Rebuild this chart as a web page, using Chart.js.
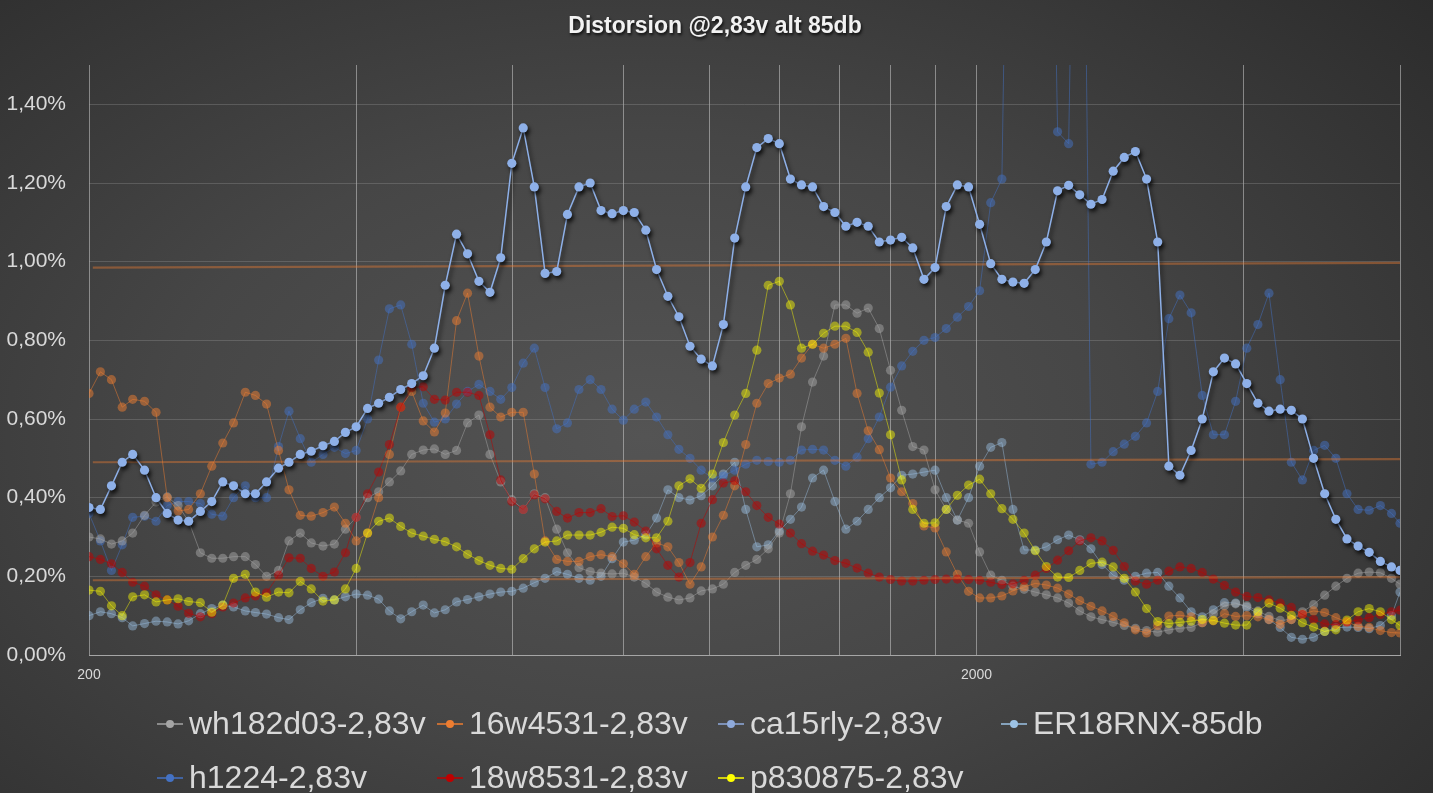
<!DOCTYPE html>
<html>
<head>
<meta charset="utf-8">
<title>Distorsion</title>
<script src="https://cdn.jsdelivr.net/npm/chart.js@4.4.1/dist/chart.umd.min.js"></script>
<style>
html, body { margin: 0; padding: 0; background: #2e2e2e; }
#wrap {
    width: 1433px; height: 793px; position: relative;
    background: radial-gradient(ellipse 75% 85% at 45% 55%, #545454 0%, #464646 45%, #2b2b2b 100%);
}
canvas { display: block; }
</style>
</head>
<body>
<div id="wrap"><canvas id="distChart" width="1433" height="793"></canvas></div>
<script>
// --- DATA (1/24 octave, % distortion) ---
const freqs = [200, 206, 212, 218, 224, 231, 238, 245, 252, 259,
    267, 275, 283, 291, 300, 308, 317, 327, 336, 346,
    356, 367, 378, 389, 400, 412, 424, 436, 449, 462,
    476, 490, 504, 519, 534, 550, 566, 582, 599, 617,
    635, 653, 673, 692, 713, 734, 755, 777, 800, 823,
    848, 872, 898, 924, 951, 979, 1008, 1037, 1068, 1099,
    1131, 1165, 1199, 1234, 1270, 1307, 1345, 1385, 1425, 1467,
    1510, 1554, 1600, 1647, 1695, 1745, 1796, 1849, 1903, 1959,
    2016, 2075, 2136, 2198, 2263, 2329, 2397, 2468, 2540, 2614,
    2691, 2770, 2851, 2934, 3020, 3109, 3200, 3294, 3390, 3490,
    3592, 3697, 3805, 3917, 4032, 4150, 4271, 4397, 4526, 4658,
    4795, 4935, 5080, 5229, 5382, 5539, 5702, 5869, 6000];

const wh182d03 = [0.30, 0.295, 0.282, 0.29, 0.31, 0.355, 0.389, 0.402, 0.38, 0.34,
    0.26, 0.246, 0.246, 0.25, 0.25, 0.23, 0.20, 0.215, 0.29, 0.31,
    0.285, 0.277, 0.282, 0.32, 0.35, 0.40, 0.415, 0.44, 0.468, 0.51,
    0.521, 0.524, 0.51, 0.52, 0.59, 0.61, 0.51, 0.44, 0.395, 0.37,
    0.41, 0.40, 0.32, 0.26, 0.222, 0.212, 0.208, 0.206, 0.208, 0.198,
    0.182, 0.16, 0.147, 0.14, 0.145, 0.163, 0.168, 0.18, 0.21, 0.228,
    0.243, 0.27, 0.31, 0.41, 0.58, 0.694, 0.76, 0.89, 0.89, 0.869,
    0.882, 0.83, 0.724, 0.622, 0.53, 0.521, 0.42, 0.37, 0.343, 0.335,
    0.262, 0.203, 0.19, 0.175, 0.167, 0.16, 0.153, 0.145, 0.132, 0.112,
    0.097, 0.09, 0.083, 0.075, 0.068, 0.062, 0.058, 0.064, 0.068, 0.07,
    0.082, 0.105, 0.125, 0.13, 0.125, 0.112, 0.098, 0.088, 0.09, 0.11,
    0.128, 0.152, 0.175, 0.195, 0.208, 0.211, 0.209, 0.195, 0.18];

const s16w4531 = [0.665, 0.72, 0.70, 0.63, 0.65, 0.645, 0.617, 0.40, 0.366, 0.37,
    0.41, 0.48, 0.539, 0.59, 0.668, 0.66, 0.638, 0.52, 0.42, 0.355,
    0.353, 0.362, 0.376, 0.335, 0.29, 0.31, 0.40, 0.51, 0.63, 0.67,
    0.595, 0.567, 0.615, 0.85, 0.92, 0.76, 0.63, 0.605, 0.617, 0.617,
    0.46, 0.29, 0.243, 0.238, 0.238, 0.25, 0.255, 0.25, 0.232, 0.205,
    0.25, 0.285, 0.275, 0.235, 0.18, 0.224, 0.30, 0.355, 0.43, 0.535,
    0.64, 0.69, 0.704, 0.714, 0.755, 0.79, 0.78, 0.79, 0.805, 0.665,
    0.57, 0.522, 0.45, 0.415, 0.385, 0.328, 0.323, 0.262, 0.205, 0.162,
    0.145, 0.145, 0.15, 0.163, 0.173, 0.182, 0.178, 0.17, 0.155, 0.138,
    0.124, 0.112, 0.098, 0.082, 0.064, 0.056, 0.075, 0.099, 0.101, 0.097,
    0.082, 0.087, 0.105, 0.098, 0.10, 0.097, 0.09, 0.078, 0.09, 0.104,
    0.112, 0.108, 0.095, 0.084, 0.073, 0.07, 0.062, 0.057, 0.056];

const ca15rly = [0.375, 0.37, 0.43, 0.49, 0.51, 0.47, 0.40, 0.36, 0.343, 0.34,
    0.365, 0.39, 0.44, 0.43, 0.41, 0.41, 0.44, 0.475, 0.49, 0.51,
    0.518, 0.532, 0.543, 0.566, 0.58, 0.627, 0.64, 0.655, 0.675, 0.69,
    0.71, 0.78, 0.94, 1.07, 1.02, 0.95, 0.922, 1.01, 1.25, 1.34,
    1.19, 0.97, 0.975, 1.12, 1.19, 1.20, 1.13, 1.122, 1.13, 1.125,
    1.08, 0.98, 0.912, 0.86, 0.785, 0.752, 0.735, 0.84, 1.06, 1.19,
    1.29, 1.313, 1.30, 1.21, 1.195, 1.19, 1.14, 1.125, 1.09, 1.10,
    1.09, 1.05, 1.055, 1.062, 1.035, 0.955, 0.985, 1.14, 1.195, 1.19,
    1.095, 0.995, 0.955, 0.948, 0.945, 0.98, 1.05, 1.18, 1.194, 1.17,
    1.146, 1.158, 1.23, 1.265, 1.28, 1.21, 1.05, 0.48, 0.457, 0.52,
    0.60, 0.72, 0.755, 0.74, 0.69, 0.64, 0.62, 0.625, 0.622, 0.60,
    0.50, 0.41, 0.345, 0.295, 0.277, 0.261, 0.238, 0.224, 0.215];

const er18rnx = [0.10, 0.11, 0.105, 0.095, 0.074, 0.08, 0.086, 0.084, 0.079, 0.087,
    0.105, 0.118, 0.127, 0.122, 0.112, 0.108, 0.104, 0.095, 0.09, 0.115,
    0.133, 0.144, 0.14, 0.148, 0.155, 0.152, 0.142, 0.112, 0.092, 0.11,
    0.127, 0.107, 0.115, 0.135, 0.141, 0.148, 0.155, 0.16, 0.162, 0.17,
    0.184, 0.195, 0.212, 0.205, 0.195, 0.19, 0.20, 0.245, 0.287, 0.292,
    0.305, 0.348, 0.42, 0.40, 0.394, 0.405, 0.43, 0.46, 0.49, 0.37,
    0.275, 0.28, 0.315, 0.345, 0.376, 0.45, 0.47, 0.39, 0.32, 0.34,
    0.37, 0.40, 0.425, 0.457, 0.46, 0.465, 0.47, 0.40, 0.343, 0.40,
    0.48, 0.528, 0.54, 0.37, 0.267, 0.267, 0.275, 0.293, 0.305, 0.293,
    0.27, 0.23, 0.203, 0.19, 0.20, 0.208, 0.21, 0.175, 0.145, 0.11,
    0.097, 0.115, 0.133, 0.132, 0.122, 0.105, 0.09, 0.07, 0.045, 0.04,
    0.045, 0.06, 0.069, 0.071, 0.07, 0.067, 0.075, 0.10, 0.16];

// values above 1,5% run off the top of the plot (spikes)
const h1224 = [0.36, 0.29, 0.215, 0.28, 0.35, 0.353, 0.34, 0.38, 0.39, 0.39,
    0.385, 0.358, 0.353, 0.40, 0.43, 0.40, 0.40, 0.53, 0.62, 0.55,
    0.49, 0.51, 0.528, 0.512, 0.52, 0.60, 0.75, 0.88, 0.89, 0.79,
    0.64, 0.592, 0.60, 0.638, 0.67, 0.688, 0.67, 0.65, 0.68, 0.742,
    0.78, 0.68, 0.575, 0.59, 0.675, 0.70, 0.675, 0.625, 0.597, 0.625,
    0.643, 0.605, 0.56, 0.523, 0.50, 0.47, 0.45, 0.455, 0.47, 0.485,
    0.495, 0.492, 0.49, 0.495, 0.521, 0.523, 0.521, 0.495, 0.48, 0.503,
    0.55, 0.605, 0.681, 0.735, 0.772, 0.80, 0.807, 0.83, 0.859, 0.886,
    0.926, 1.15, 1.21, 3.0, 3.0, 3.0, 3.0, 1.33, 1.30, 3.0,
    0.485, 0.49, 0.517, 0.536, 0.556, 0.59, 0.67, 0.855, 0.915, 0.87,
    0.66, 0.56, 0.56, 0.645, 0.78, 0.84, 0.92, 0.70, 0.49, 0.445,
    0.52, 0.533, 0.50, 0.41, 0.37, 0.368, 0.38, 0.36, 0.335];

const s18w8531 = [0.25, 0.243, 0.232, 0.21, 0.185, 0.175, 0.153, 0.14, 0.124, 0.106,
    0.097, 0.105, 0.122, 0.132, 0.145, 0.15, 0.158, 0.203, 0.247, 0.246,
    0.22, 0.20, 0.211, 0.26, 0.35, 0.41, 0.465, 0.535, 0.63, 0.68,
    0.682, 0.65, 0.648, 0.668, 0.668, 0.66, 0.56, 0.445, 0.39, 0.37,
    0.407, 0.397, 0.365, 0.348, 0.362, 0.362, 0.372, 0.352, 0.354, 0.338,
    0.315, 0.27, 0.228, 0.198, 0.235, 0.335, 0.395, 0.437, 0.443, 0.415,
    0.38, 0.35, 0.333, 0.31, 0.283, 0.264, 0.254, 0.24, 0.233, 0.221,
    0.208, 0.198, 0.192, 0.188, 0.188, 0.19, 0.192, 0.193, 0.193, 0.192,
    0.19, 0.185, 0.179, 0.181, 0.19, 0.203, 0.22, 0.241, 0.265, 0.29,
    0.298, 0.29, 0.266, 0.225, 0.188, 0.18, 0.19, 0.213, 0.224, 0.22,
    0.21, 0.193, 0.177, 0.16, 0.149, 0.146, 0.14, 0.132, 0.121, 0.103,
    0.09, 0.079, 0.077, 0.084, 0.089, 0.095, 0.103, 0.11, 0.114];

const p830875 = [0.165, 0.162, 0.125, 0.10, 0.148, 0.153, 0.135, 0.14, 0.143, 0.136,
    0.133, 0.109, 0.127, 0.195, 0.205, 0.16, 0.147, 0.16, 0.158, 0.187,
    0.168, 0.137, 0.14, 0.168, 0.22, 0.31, 0.34, 0.348, 0.327, 0.31,
    0.302, 0.294, 0.288, 0.275, 0.256, 0.24, 0.228, 0.22, 0.218, 0.245,
    0.27, 0.287, 0.29, 0.305, 0.305, 0.305, 0.312, 0.325, 0.322, 0.306,
    0.298, 0.298, 0.34, 0.43, 0.448, 0.424, 0.46, 0.54, 0.61, 0.665,
    0.775, 0.94, 0.95, 0.89, 0.78, 0.79, 0.818, 0.836, 0.836, 0.82,
    0.77, 0.666, 0.56, 0.445, 0.37, 0.335, 0.336, 0.37, 0.406, 0.432,
    0.447, 0.41, 0.372, 0.345, 0.31, 0.265, 0.225, 0.198, 0.197, 0.215,
    0.233, 0.236, 0.224, 0.195, 0.16, 0.118, 0.085, 0.08, 0.083, 0.086,
    0.09, 0.088, 0.081, 0.076, 0.076, 0.11, 0.132, 0.119, 0.101, 0.082,
    0.071, 0.06, 0.064, 0.089, 0.11, 0.118, 0.11, 0.09, 0.075];

// reference levels (orange lines), value at first and last frequency
const refFreqs = [202, 6000];
const refLevels = [[0.985, 0.997], [0.49, 0.498], [0.19, 0.198]];

const seriesNames = ['wh182d03-2,83v', '16w4531-2,83v', 'ca15rly-2,83v', 'ER18RNX-85db',
    'h1224-2,83v', '18w8531-2,83v', 'p830875-2,83v'];
const seriesValues = [wh182d03, s16w4531, ca15rly, er18rnx, h1224, s18w8531, p830875];
const legendColors = ['#a5a5a5', '#ed7d31', '#8faadc', '#9dc3e6', '#4472c4', '#c00000', '#ffff00'];
const plotColors = ['rgba(165,165,165,0.5)', 'rgba(237,125,49,0.5)', '#8eb0e8', 'rgba(157,195,230,0.45)',
    'rgba(68,114,196,0.5)', 'rgba(192,0,0,0.5)', 'rgba(255,255,0,0.45)'];
const drawOrder = [4, 3, 0, 6, 5, 2, 1];

const xGrid = [200, 400, 600, 800, 1000, 1200, 1400, 1600, 1800, 2000, 4000, 6000];
const xLabels = [200, 2000];

const fontMain = "'Liberation Sans', sans-serif";
const HIGHLIGHT = 2; // ca15rly drawn with a drop shadow

// --- DATASETS ---
const datasets = seriesNames.map((name, s) => ({
    label: name,
    data: freqs.map((f, i) => ({ x: f, y: seriesValues[s][i] })),
    borderColor: plotColors[s],
    backgroundColor: plotColors[s],
    borderWidth: s === HIGHLIGHT ? 1.5 : 1,
    pointRadius: 4.6,
    pointBorderWidth: 0,
    pointHoverRadius: 4.6,
    tension: 0,
    order: drawOrder[s]
}));

refLevels.forEach(lv => {
    datasets.push({
        label: 'ref',
        data: refFreqs.map((f, i) => ({ x: f, y: lv[i] })),
        borderColor: 'rgba(237,125,49,0.42)',
        borderWidth: 2.2,
        pointRadius: 0,
        order: 1
    });
});

// --- PLUGIN: shadow, title, legend ---
const decorPlugin = {
    id: 'decor',
    beforeDatasetDraw(chart, args) {
        if (args.index === HIGHLIGHT) {
            const ctx = chart.ctx;
            ctx.save();
            ctx.shadowColor = 'rgba(0,0,0,0.75)';
            ctx.shadowBlur = 4;
            ctx.shadowOffsetX = 2;
            ctx.shadowOffsetY = 3;
        }
    },
    afterDatasetDraw(chart, args) {
        if (args.index === HIGHLIGHT) chart.ctx.restore();
    },
    afterDraw(chart) {
        const ctx = chart.ctx;
        // title
        ctx.save();
        ctx.font = "bold 23px " + fontMain;
        ctx.textAlign = 'center';
        ctx.textBaseline = 'middle';
        ctx.shadowColor = 'rgba(0,0,0,0.8)';
        ctx.shadowBlur = 3;
        ctx.shadowOffsetX = 1;
        ctx.shadowOffsetY = 2;
        ctx.fillStyle = '#f2f2f2';
        ctx.fillText('Distorsion @2,83v alt 85db', 715, 27);
        ctx.restore();

        // legend, 4 columns x 2 rows
        const cols = [157, 437, 718, 1001];
        const rows = [724, 778];
        ctx.save();
        ctx.font = "32px " + fontMain;
        ctx.textBaseline = 'middle';
        ctx.textAlign = 'left';
        seriesNames.forEach((name, s) => {
            const x0 = cols[s % 4];
            const y0 = rows[Math.floor(s / 4)];
            ctx.strokeStyle = legendColors[s];
            ctx.lineWidth = 1.5;
            ctx.beginPath();
            ctx.moveTo(x0, y0);
            ctx.lineTo(x0 + 26, y0);
            ctx.stroke();
            ctx.fillStyle = legendColors[s];
            ctx.beginPath();
            ctx.arc(x0 + 13, y0, 4, 0, Math.PI * 2);
            ctx.fill();
            ctx.fillStyle = '#d9d9d9';
            ctx.fillText(name, x0 + 32, y0 + 1);
        });
        ctx.restore();
    }
};

// --- CHART ---
new Chart(document.getElementById('distChart'), {
    type: 'line',
    data: { datasets: datasets },
    options: {
        responsive: false,
        animation: false,
        layout: { padding: { top: 65, right: 33, bottom: 93, left: 0 } },
        plugins: {
            legend: { display: false },
            title: { display: false },
            tooltip: { enabled: false }
        },
        scales: {
            x: {
                type: 'logarithmic',
                min: 200,
                max: 6000,
                afterBuildTicks: scale => { scale.ticks = xGrid.map(v => ({ value: v })); },
                afterFit: scale => { scale.height = 45; },
                ticks: {
                    autoSkip: false,
                    maxRotation: 0,
                    padding: 12,
                    color: '#d9d9d9',
                    font: { family: fontMain, size: 14 },
                    callback: v => xLabels.includes(v) ? String(v) : ''
                },
                grid: { color: 'rgba(215,215,215,0.5)', lineWidth: 1, drawTicks: false },
                border: { display: true, color: '#a6a6a6', width: 1 }
            },
            y: {
                min: 0,
                max: 1.5,
                afterBuildTicks: scale => { scale.ticks = scale.ticks.filter(t => t.value < 1.45); },
                afterFit: scale => { scale.width = 89; },
                ticks: {
                    stepSize: 0.2,
                    padding: 23,
                    color: '#d9d9d9',
                    font: { family: fontMain, size: 21 },
                    callback: v => v.toFixed(2).replace('.', ',') + '%'
                },
                grid: { color: 'rgba(170,170,170,0.28)', lineWidth: 1, drawTicks: false },
                border: { display: false }
            }
        }
    },
    plugins: [decorPlugin]
});
</script>
</body>
</html>
